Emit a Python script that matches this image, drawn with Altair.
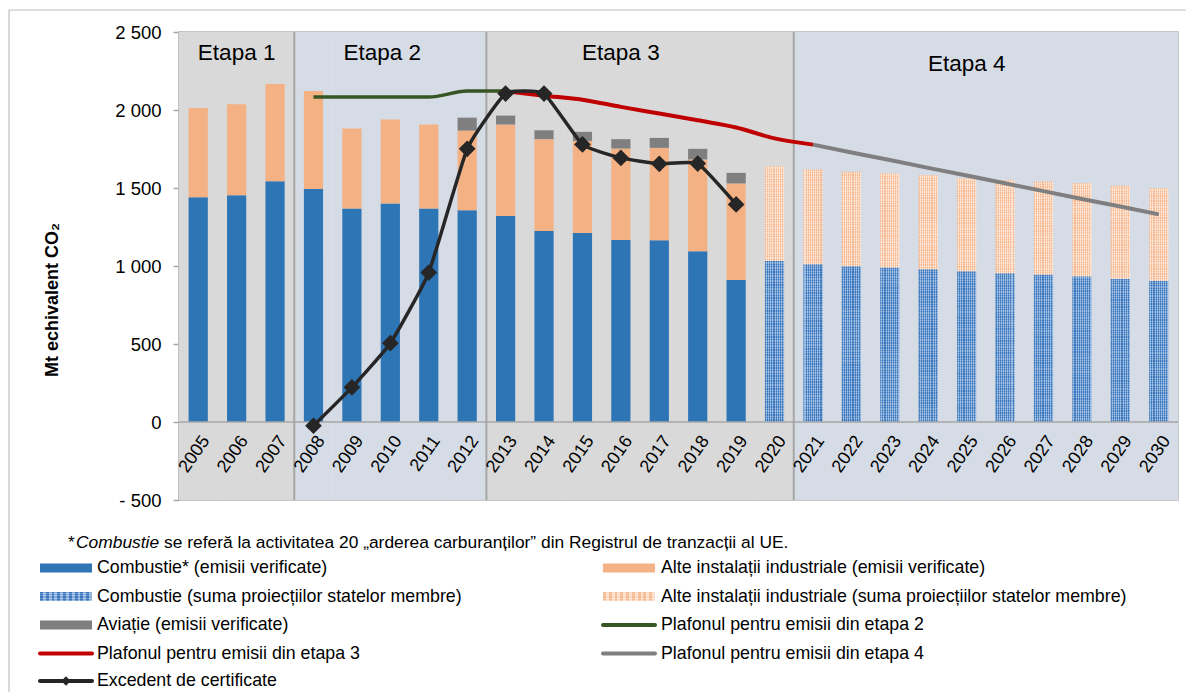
import altair as alt
import pandas as pd

FONT = "Liberation Sans"

# ---------------- data ----------------
years = ["2005", "2006", "2007", "2008", "2009", "2010", "2011", "2012", "2013",
         "2014", "2015", "2016", "2017", "2018", "2019", "2020", "2021", "2022",
         "2023", "2024", "2025", "2026", "2027", "2028", "2029", "2030"]

verified_years = ["2005", "2006", "2007", "2008", "2009", "2010", "2011", "2012",
                  "2013", "2014", "2015", "2016", "2017", "2018", "2019"]
combustie_verified = [1441, 1454, 1544, 1493, 1369, 1401, 1369, 1358, 1320, 1224,
                      1211, 1167, 1165, 1094, 911]
alte_verified = [572, 583, 623, 629, 512, 538, 538, 510, 587, 589, 591, 586, 592,
                 589, 618]

aviation_years = ["2012", "2013", "2014", "2015", "2016", "2017", "2018", "2019"]
aviation_verified = [83, 57, 57, 58, 60, 64, 68, 68]

projection_years = ["2020", "2021", "2022", "2023", "2024", "2025", "2026", "2027",
                    "2028", "2029", "2030"]
combustie_projected = [1032, 1011, 998, 990, 979, 966, 953, 946, 934, 919, 906]
alte_projected = [608, 608, 606, 605, 603, 597, 597, 596, 597, 595, 593]

cap2_years = ["2008", "2009", "2010", "2011", "2012", "2013"]
cap2_values = [2083, 2083, 2083, 2083, 2121, 2121]

cap3_years = ["2013", "2014", "2015", "2016", "2017", "2018", "2019", "2020", "2021"]
cap3_values = [2120, 2092, 2066, 2020, 1977, 1934, 1888, 1818, 1778]

cap4_years = ["2021", "2022", "2023", "2024", "2025", "2026", "2027", "2028",
              "2029", "2030"]
cap4_values = [1778, 1728, 1679, 1629, 1580, 1530, 1480, 1430, 1381, 1331]

surplus_years = ["2008", "2009", "2010", "2011", "2012", "2013", "2014", "2015",
                 "2016", "2017", "2018", "2019"]
surplus_values = [-24, 222, 505, 958, 1751, 2105, 2105, 1779, 1693, 1655, 1657, 1395]

stage_names = ["Etapa 1", "Etapa 2", "Etapa 3", "Etapa 4"]
stage_first_year = ["2005", "2008", "2013", "2021"]
stage_last_year = ["2007", "2012", "2020", "2030"]
stage_label_year = ["2006", "2010", "2016", "2025"]
stage_label_value = [2320, 2320, 2320, 2250]

y_ticks = [-500, 0, 500, 1000, 1500, 2000, 2500]

legend_left = ["Combustie* (emisii verificate)",
               "Combustie (suma proiecțiilor statelor membre)",
               "Aviație (emisii verificate)",
               "Plafonul pentru emisii din etapa 3",
               "Excedent de certificate"]
legend_right = ["Alte instalații industriale (emisii verificate)",
                "Alte instalații industriale (suma proiecțiilor statelor membre)",
                "Plafonul pentru emisii din etapa 2",
                "Plafonul pentru emisii din etapa 4"]
footnote_star = "*"
footnote_italic = "Combustie"
footnote_rest = "se referă la activitatea 20 „arderea carburanților” din Registrul de tranzacții al UE."
y_title = "Mt echivalent CO₂"

# ---------------- styles ----------------
BLUE = "#2E75B6"
ORANGE = "#F4B183"
AVI = "#7F7F7F"
GREEN = "#375623"
RED = "#C00000"
GREY4 = "#7F7F7F"
BLACK = "#262626"
FRAME = "#A6A6A6"
STAGE_COLORS = ["#D9D9D9", "#D6DCE5", "#D9D9D9", "#D6DCE5"]

W, H = 999, 468


def stripes(c1, c2, n, vertical_stripes=True):
    stops = []
    for i in range(n):
        a = i / n
        m = (i + 0.5) / n
        b = (i + 1) / n
        stops += [{"offset": a, "color": c1}, {"offset": m, "color": c1},
                  {"offset": m, "color": c2}, {"offset": b, "color": c2}]
    if vertical_stripes:
        return {"gradient": "linear", "x1": 0, "y1": 0, "x2": 1, "y2": 0, "stops": stops}
    return {"gradient": "linear", "x1": 0, "y1": 0, "x2": 0, "y2": 1, "stops": stops}


BLUE_PAT = stripes("#3574BA", "#86ADDC", 9)
ORANGE_PAT = stripes("#F5B78E", "#FCDCC6", 9)
WHITE_H_BLUE = stripes("rgba(255,255,255,0)", "rgba(255,255,255,0.22)", 62, False)
WHITE_H_OR = stripes("rgba(255,255,255,0)", "rgba(255,255,255,0.3)", 38, False)
WHITE_H_LEG = stripes("rgba(255,255,255,0)", "rgba(255,255,255,0.3)", 4, False)

xenc = alt.X("year:N", scale=alt.Scale(domain=years, paddingInner=0, paddingOuter=0),
             axis=None)
yscale = alt.Scale(domain=[-500, 2500], nice=False, zero=False)
yaxis = alt.Axis(values=y_ticks,
                 labelExpr="datum.value < 0 ? '- ' + replace(format(-datum.value, ','), ',', ' ') : replace(format(datum.value, ','), ',', ' ')",
                 labelFont=FONT, labelFontSize=18.5, labelColor="#000000",
                 tickColor=FRAME, tickSize=6, tickWidth=1.5,
                 domainColor=FRAME, domainWidth=1.5, grid=False, title=None,
                 labelPadding=12)


def Y(field):
    return alt.Y(field, scale=yscale, axis=yaxis)


# ---------------- tables ----------------
stage_of_year = []
for yr in years:
    for nm, a, b in zip(stage_names, stage_first_year, stage_last_year):
        if int(a) <= int(yr) <= int(b):
            stage_of_year.append(nm)
df_bg = pd.DataFrame({"year": years, "stage": stage_of_year})
df_ver = pd.DataFrame({"year": verified_years, "comb": combustie_verified,
                       "alte": alte_verified})
df_avi = pd.DataFrame({"year": aviation_years, "avi": aviation_verified}).merge(df_ver, on="year")
df_proj = pd.DataFrame({"year": projection_years, "comb": combustie_projected,
                        "alte": alte_projected})
df_cap2 = pd.DataFrame({"year": cap2_years, "v": cap2_values})
df_cap3 = pd.DataFrame({"year": cap3_years, "v": cap3_values})
df_cap4 = pd.DataFrame({"year": cap4_years, "v": cap4_values})
df_sur = pd.DataFrame({"year": surplus_years, "v": surplus_values})
df_stage = pd.DataFrame({"name": stage_names, "year": stage_label_year,
                         "v": stage_label_value})
df_bound = pd.DataFrame({"year": stage_first_year[1:]})
df_years = pd.DataFrame({"year": years})
one = pd.DataFrame({"k": [0]})

stage_color = alt.Scale(domain=stage_names, range=STAGE_COLORS)

bg = alt.Chart(df_bg).mark_rect(strokeWidth=0.6).encode(
    x=xenc,
    y=alt.YDatum(2500, type="quantitative", scale=yscale, axis=yaxis),
    y2=alt.datum(-500),
    color=alt.Color("stage:N", scale=stage_color, legend=None),
    stroke=alt.Stroke("stage:N", scale=stage_color, legend=None),
)

bounds = alt.Chart(df_bound).mark_rule(color=FRAME, strokeWidth=2).encode(
    x=alt.X("year:N", bandPosition=0, scale=alt.Scale(domain=years, paddingInner=0, paddingOuter=0), axis=None),
    y=alt.YDatum(2500, type="quantitative", scale=yscale, axis=yaxis),
    y2=alt.datum(-500),
)

zero = alt.Chart(one).mark_rule(color=FRAME, strokeWidth=1.5).encode(y=alt.datum(0))

bw = alt.RelativeBandSize(0.5)
bar_comb = alt.Chart(df_ver).mark_bar(width=bw, color=BLUE).encode(
    x=xenc, y=Y("comb:Q"), y2=alt.datum(0))
bar_alte = alt.Chart(df_ver).transform_calculate(top="datum.comb + datum.alte").mark_bar(
    width=bw, color=ORANGE).encode(x=xenc, y=Y("comb:Q"), y2="top:Q")
bar_avi = alt.Chart(df_avi).transform_calculate(
    base="datum.comb + datum.alte", top="datum.comb + datum.alte + datum.avi").mark_bar(
    width=bw, color=AVI).encode(x=xenc, y=Y("base:Q"), y2="top:Q")

proj_comb = alt.Chart(df_proj).mark_bar(width=bw, fill=BLUE_PAT).encode(
    x=xenc, y=Y("comb:Q"), y2=alt.datum(0))
proj_comb_o = alt.Chart(df_proj).mark_bar(width=bw, fill=WHITE_H_BLUE).encode(
    x=xenc, y=Y("comb:Q"), y2=alt.datum(0))
proj_alte = alt.Chart(df_proj).transform_calculate(top="datum.comb + datum.alte").mark_bar(
    width=bw, fill=ORANGE_PAT).encode(x=xenc, y=Y("comb:Q"), y2="top:Q")
proj_alte_o = alt.Chart(df_proj).transform_calculate(top="datum.comb + datum.alte").mark_bar(
    width=bw, fill=WHITE_H_OR).encode(x=xenc, y=Y("comb:Q"), y2="top:Q")

line_cap2 = alt.Chart(df_cap2).mark_line(color=GREEN, strokeWidth=3.5, interpolate="monotone").encode(
    x=xenc, y=Y("v:Q"))
line_cap3 = alt.Chart(df_cap3).mark_line(color=RED, strokeWidth=4, interpolate="monotone").encode(
    x=xenc, y=Y("v:Q"))
line_cap4 = alt.Chart(df_cap4).mark_line(color=GREY4, strokeWidth=4).encode(
    x=xenc, y=Y("v:Q"))
line_sur = alt.Chart(df_sur).mark_line(color=BLACK, strokeWidth=3.5, interpolate="cardinal",
                                       tension=0.6).encode(x=xenc, y=Y("v:Q"))
pts_sur = alt.Chart(df_sur).mark_point(shape="diamond", filled=True, size=280, color=BLACK,
                                        opacity=1).encode(x=xenc, y=Y("v:Q"))

xlabels = alt.Chart(df_years).mark_text(angle=305, align="right", baseline="middle", dx=-8.5, dy=15.7,
                                        font=FONT, fontSize=18, color="#000000").encode(
    x=xenc, y=alt.datum(0), text="year:N")

stage_txt = alt.Chart(df_stage).transform_filter("datum.name != 'Etapa 2'").mark_text(
    font=FONT, fontSize=22.5, baseline="alphabetic", align="center", color="#000000").encode(
    x=xenc, y=Y("v:Q"), text="name:N")
stage_txt2 = alt.Chart(df_stage).transform_filter("datum.name == 'Etapa 2'").mark_text(
    font=FONT, fontSize=22.5, baseline="alphabetic", align="center", color="#000000", dx=-8).encode(
    x=xenc, y=Y("v:Q"), text="name:N")

# y-axis title and outer border (page layout elements)
ytitle = alt.Chart(pd.DataFrame({"t": [y_title]})).mark_text(
    font=FONT, fontSize=18, fontWeight="bold", angle=270, align="center", baseline="middle",
    color="#000000").encode(x=alt.value(-126), y=alt.value(268), text="t:N")
border_l = alt.Chart(one).mark_rule(color="#BFBFBF", strokeWidth=1.2).encode(
    x=alt.value(-170), y=alt.value(-22), y2=alt.value(700))
border_t = alt.Chart(one).mark_rule(color="#BFBFBF", strokeWidth=1.2).encode(
    x=alt.value(-170), x2=alt.value(1020), y=alt.value(-22))

# ---------------- legend ----------------
LX0, LX1, LT = -139, -87, -82
RX0, RX1, RT = 424, 476, 482
ROWS = [536, 564.5, 593, 621.5, 649]
FOOT_Y = 511
LFS = 17.8


def ltext(x, y, label, size=LFS, **kw):
    return alt.Chart(pd.DataFrame({"t": [label]})).mark_text(
        align="left", baseline="middle", font=FONT, fontSize=size, color="#000000", **kw).encode(
        x=alt.value(x), y=alt.value(y), text="t:N")


def lrect(x0, x1, y, fill):
    return alt.Chart(one).mark_rect(fill=fill).encode(
        x=alt.value(x0), x2=alt.value(x1), y=alt.value(y - 4.5), y2=alt.value(y + 4.5))


def lline(x0, x1, y, color):
    return alt.Chart(one).mark_rule(color=color, strokeWidth=4, strokeCap="round").encode(
        x=alt.value(x0), x2=alt.value(x1), y=alt.value(y))


legend_layers = [
    ltext(-111, FOOT_Y, footnote_star, size=17.4),
    ltext(-103, FOOT_Y, footnote_italic, size=17.4, fontStyle="italic"),
    ltext(-15, FOOT_Y, footnote_rest, size=17.4),
    lrect(LX0, LX1, ROWS[0], BLUE), ltext(LT, ROWS[0], legend_left[0]),
    lrect(LX0, LX1, ROWS[1], BLUE_PAT), lrect(LX0, LX1, ROWS[1], WHITE_H_LEG),
    ltext(LT, ROWS[1], legend_left[1]),
    lrect(LX0, LX1, ROWS[2], AVI), ltext(LT, ROWS[2], legend_left[2]),
    lline(LX0, LX1, ROWS[3], RED), ltext(LT, ROWS[3], legend_left[3]),
    lline(LX0, LX1, ROWS[4], BLACK),
    alt.Chart(one).mark_point(shape="diamond", filled=True, size=90, color=BLACK, opacity=1).encode(
        x=alt.value((LX0 + LX1) / 2), y=alt.value(ROWS[4])),
    ltext(LT, ROWS[4], legend_left[4]),
    lrect(RX0, RX1, ROWS[0], ORANGE), ltext(RT, ROWS[0], legend_right[0]),
    lrect(RX0, RX1, ROWS[1], ORANGE_PAT), lrect(RX0, RX1, ROWS[1], WHITE_H_LEG),
    ltext(RT, ROWS[1], legend_right[1]),
    lline(RX0, RX1, ROWS[2], GREEN), ltext(RT, ROWS[2], legend_right[2]),
    lline(RX0, RX1, ROWS[3], GREY4), ltext(RT, ROWS[3], legend_right[3]),
]

chart = alt.layer(
    bg, bounds, bar_comb, bar_alte, bar_avi, proj_comb, proj_comb_o, proj_alte, proj_alte_o,
    zero, xlabels, stage_txt, stage_txt2,
    line_cap2, line_cap3, line_cap4, line_sur, pts_sur,
    ytitle, border_l, border_t, *legend_layers
).properties(
    width=W, height=H,
    autosize=alt.AutoSizeParams(type="none"),
    padding={"left": 171, "top": 24, "right": 8, "bottom": 192},
    background="#FFFFFF",
).configure_view(stroke=FRAME, strokeWidth=1.5)

chart.save("out.html", embed_options={"renderer": "svg", "actions": False})
